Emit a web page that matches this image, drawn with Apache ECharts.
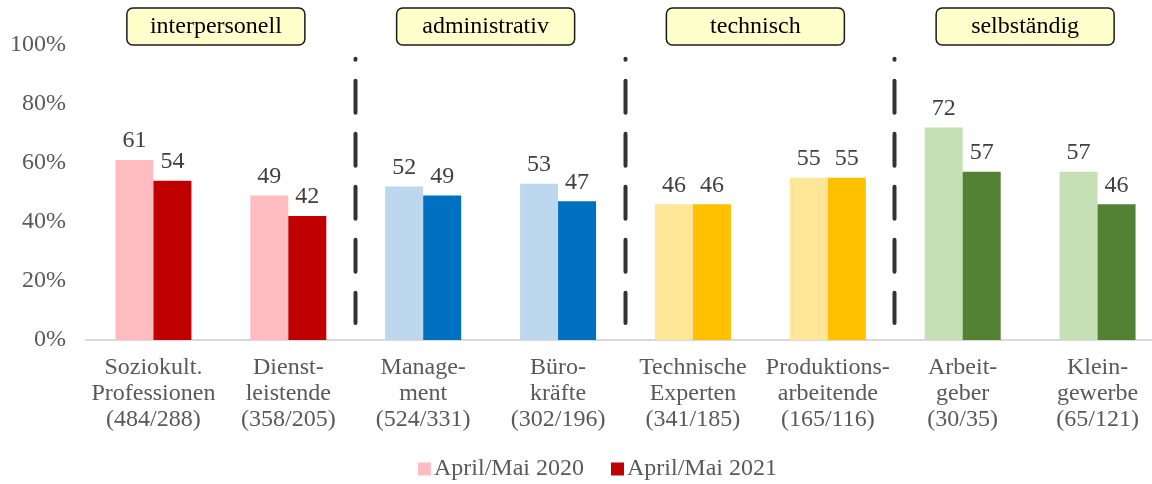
<!DOCTYPE html>
<html>
<head>
<meta charset="utf-8">
<script src="https://cdn.jsdelivr.net/npm/echarts@6/dist/echarts.min.js"></script>
<style>
  html, body { margin: 0; padding: 0; background: #fff; }
  #chart { width: 1152px; height: 484px; }
</style>
</head>
<body>
<div id="chart"></div>
<script>
// Occupational classes with sample sizes (2020/2021)
const categories = [
  'Soziokult.\nProfessionen\n(484/288)',
  'Dienst-\nleistende\n(358/205)',
  'Manage-\nment\n(524/331)',
  'Büro-\nkräfte\n(302/196)',
  'Technische\nExperten\n(341/185)',
  'Produktions-\narbeitende\n(165/116)',
  'Arbeit-\ngeber\n(30/35)',
  'Klein-\ngewerbe\n(65/121)'
];
const seriesNames = ['April/Mai 2020', 'April/Mai 2021'];
const values2020 = [61, 49, 52, 53, 46, 55, 72, 57];
const values2021 = [54, 42, 49, 47, 46, 55, 57, 46];
const yTicks = [0, 20, 40, 60, 80, 100];

// Work-logic groups: label and first/last category index
const groupNames = ['interpersonell', 'administrativ', 'technisch', 'selbständig'];
const groupFirst = [0, 2, 4, 6];
const groupLast = [1, 3, 5, 7];

// Per-category bar colours (light = 2020, dark = 2021)
const lightColors = ['#FFBDC1', '#FFBDC1', '#BDD7EE', '#BDD7EE', '#FFE699', '#FFE699', '#C5E0B4', '#C5E0B4'];
const darkColors = ['#C00000', '#C00000', '#0070C0', '#0070C0', '#FFC000', '#FFC000', '#548235', '#548235'];

const FONT = '"Liberation Serif", "Times New Roman", serif';
const FS = 24;

const chart = echarts.init(document.getElementById('chart'), null, { renderer: 'canvas' });

function barData(values, colors) {
  return values.map((v, i) => ({ value: v, itemStyle: { color: colors[i] } }));
}

const valueLabel = {
  show: true,
  position: 'top',
  distance: 7,
  color: '#404040',
  fontFamily: FONT,
  fontSize: FS
};

chart.setOption({
  animation: false,
  backgroundColor: '#ffffff',
  grid: { left: 86, top: 45, width: 1079, height: 295, outerBoundsMode: 'none', containLabel: false },
  legend: {
    data: seriesNames,
    left: 413,
    top: 452,
    itemWidth: 13,
    itemHeight: 13,
    itemGap: 27,
    icon: 'rect',
    textStyle: { color: '#595959', fontFamily: FONT, fontSize: FS, padding: [0, 0, 0, -2] }
  },
  xAxis: {
    type: 'category',
    data: categories,
    axisLine: { show: true, lineStyle: { color: '#D9D9D9', width: 2 } },
    axisTick: { show: false },
    axisLabel: {
      interval: 0,
      margin: 15,
      color: '#595959',
      fontFamily: FONT,
      fontSize: FS,
      lineHeight: 26,
      align: 'center'
    }
  },
  yAxis: {
    type: 'value',
    min: yTicks[0],
    max: yTicks[yTicks.length - 1],
    interval: yTicks[1] - yTicks[0],
    axisLine: { show: false },
    axisTick: { show: false },
    splitLine: { show: false },
    axisLabel: {
      margin: 20,
      color: '#595959',
      fontFamily: FONT,
      fontSize: FS,
      formatter: '{value}%'
    }
  },
  series: [
    {
      name: seriesNames[0],
      type: 'bar',
      barWidth: 38,
      barGap: '0%',
      itemStyle: { color: lightColors[0] },
      label: valueLabel,
      data: barData(values2020, lightColors)
    },
    {
      name: seriesNames[1],
      type: 'bar',
      barWidth: 38,
      barGap: '0%',
      itemStyle: { color: darkColors[0] },
      label: valueLabel,
      data: barData(values2021, darkColors)
    }
  ]
});

// Group header boxes and dashed separators, placed from the category axis
const xAt = (i) => chart.convertToPixel({ xAxisIndex: 0 }, i);
const yAt = (v) => chart.convertToPixel({ yAxisIndex: 0 }, v);
const graphics = [];
const boxW = 178, boxH = 37, boxTop = 8;

groupNames.forEach((name, g) => {
  const cx = (xAt(groupFirst[g]) + xAt(groupLast[g])) / 2 - 5;
  graphics.push({
    type: 'rect',
    shape: { x: cx - boxW / 2, y: boxTop, width: boxW, height: boxH, r: 6 },
    style: { fill: '#FFFFCC', stroke: '#1a1a1a', lineWidth: 1.5 },
    z: 10
  });
  graphics.push({
    type: 'text',
    style: {
      text: name,
      x: cx,
      y: boxTop + boxH / 2,
      align: 'center',
      verticalAlign: 'middle',
      font: FS + 'px ' + FONT,
      fill: '#000000'
    },
    z: 11
  });
  if (g > 0) {
    const sx = Math.round((xAt(groupFirst[g]) + xAt(groupLast[g - 1])) / 2) - 0.5;
    graphics.push({
      type: 'line',
      shape: { x1: sx, y1: yAt(95.3), x2: sx, y2: yAt(5.8) },
      style: { stroke: '#333333', lineWidth: 4, lineDash: [32, 21], lineDashOffset: 31, lineCap: 'round' },
      z: 5
    });
  }
});

chart.setOption({ graphic: graphics });
</script>
</body>
</html>
